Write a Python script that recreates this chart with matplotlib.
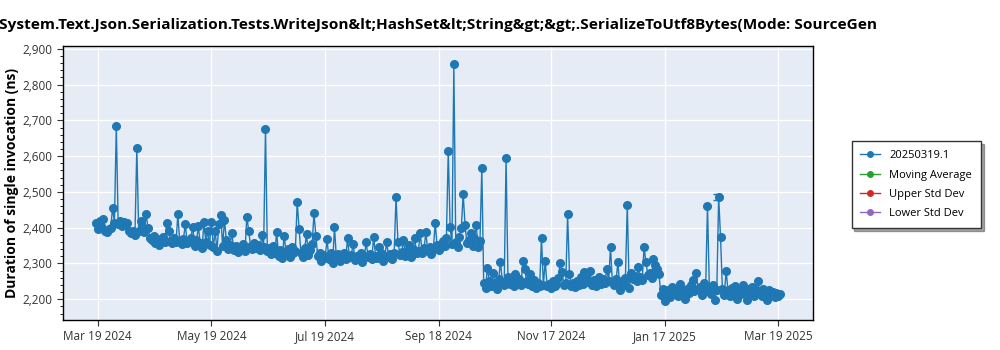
import pandas as pd
import numpy as np
import matplotlib
matplotlib.use("Agg")
import matplotlib.pyplot as plt
import matplotlib.dates as mdates
from matplotlib.lines import Line2D
from matplotlib.ticker import FuncFormatter, MultipleLocator

plt.rcParams["font.family"] = ["Open Sans", "DejaVu Sans"]

TITLE = "System.Text.Json.Serialization.Tests.WriteJson&lt;HashSet&lt;String&gt;&gt;.SerializeToUtf8Bytes(Mode: SourceGen"
Y_LABEL = "Duration of single invocation (ns)"

# one benchmark run per day, starting 2024-03-18
first_run = "2024-03-18"
durations = [
    2412, 2396, 2418, 2404, 2425, 2392, 2389, 2395, 2400, 2456,
    2414, 2685, 2410, 2418, 2406, 2415, 2409, 2412, 2392, 2385,
    2390, 2380, 2623, 2392, 2420, 2401, 2388, 2437, 2398, 2372,
    2366, 2378, 2358, 2368, 2352, 2362, 2374, 2360, 2413, 2390,
    2364, 2356, 2370, 2359, 2437, 2362, 2355, 2368, 2410, 2358,
    2364, 2372, 2403, 2348, 2365, 2404, 2356, 2342, 2417, 2360,
    2390, 2352, 2416, 2345, 2390, 2336, 2410, 2436, 2348, 2422,
    2365, 2340, 2352, 2385, 2338, 2350, 2332, 2346, 2341, 2355,
    2336, 2431, 2391, 2348, 2340, 2356, 2343, 2352, 2338, 2380,
    2345, 2676, 2335, 2342, 2326, 2348, 2330, 2388, 2322, 2338,
    2315, 2378, 2332, 2340, 2318, 2345, 2328, 2336, 2472, 2397,
    2330, 2318, 2342, 2382, 2325, 2338, 2354, 2440, 2378, 2320,
    2330, 2308, 2325, 2318, 2368, 2312, 2328, 2300, 2402, 2315,
    2326, 2308, 2322, 2330, 2312, 2371, 2318, 2325, 2354, 2310,
    2322, 2316, 2330, 2305, 2320, 2359, 2318, 2326, 2312, 2375,
    2322, 2315, 2345, 2328, 2308, 2320, 2361, 2318, 2326, 2312,
    2330, 2486, 2361, 2325, 2332, 2365, 2322, 2335, 2351, 2318,
    2340, 2370, 2328, 2336, 2385, 2330, 2342, 2387, 2335, 2345,
    2326, 2340, 2413, 2351, 2338, 2346, 2362, 2348, 2370, 2615,
    2402, 2355, 2857, 2360, 2345, 2375, 2400, 2494, 2407, 2357,
    2365, 2386, 2348, 2370, 2407, 2345, 2362, 2567, 2245, 2232,
    2288, 2250, 2238, 2272, 2245, 2228, 2256, 2304, 2248, 2240,
    2595, 2262, 2244, 2255, 2236, 2270, 2248, 2258, 2240, 2306,
    2285, 2250, 2242, 2270, 2238, 2254, 2232, 2245, 2236, 2372,
    2240, 2307, 2236, 2244, 2232, 2250, 2238, 2242, 2260, 2300,
    2277, 2240, 2246, 2437, 2270, 2238, 2245, 2235, 2250, 2240,
    2262, 2244, 2277, 2262, 2248, 2280, 2240, 2255, 2236, 2250,
    2262, 2244, 2258, 2246, 2285, 2250, 2345, 2248, 2240, 2256,
    2303, 2226, 2252, 2244, 2260, 2464, 2232, 2274, 2258, 2266,
    2250, 2289, 2262, 2255, 2345, 2303, 2268, 2272, 2260, 2312,
    2295, 2285, 2270, 2212, 2230, 2196, 2218, 2225, 2205, 2235,
    2214, 2222, 2208, 2243, 2216, 2226, 2200, 2230, 2218, 2240,
    2253, 2222, 2274, 2228, 2235, 2212, 2245, 2226, 2462, 2232,
    2215, 2240, 2198, 2225, 2486, 2373, 2228, 2212, 2280, 2225,
    2208, 2232, 2218, 2236, 2200, 2228, 2215, 2240, 2222, 2198,
    2230, 2218, 2235, 2210, 2226, 2252, 2222, 2208, 2230, 2215,
    2198, 2225, 2212, 2220, 2205, 2218, 2210, 2215,
]

# the one run with a visible error bar
err_date = "2025-02-14"
err_value = 2486
err_size = 8

series_labels = ["20250319.1", "Moving Average", "Upper Std Dev", "Lower Std Dev"]
series_colors = ["#1f77b4", "#2ca02c", "#d62728", "#9467bd"]

tick_dates = ["2024-03-19", "2024-05-19", "2024-07-19", "2024-09-18",
              "2024-11-17", "2025-01-17", "2025-03-19"]

dates = pd.date_range(first_run, periods=len(durations), freq="D")

fig = plt.figure(figsize=(10, 3.5), dpi=100)
ax = fig.add_axes([0.063, 0.0857, 0.75, 0.783])
ax.set_facecolor("#e5ecf6")

ax.plot(dates, durations, color=series_colors[0], marker="o", markersize=5.5,
        linewidth=1, zorder=3)
ax.errorbar([pd.Timestamp(err_date)], [err_value], yerr=err_size,
            color=series_colors[0], capsize=3, linewidth=1, zorder=3)

ax.set_xlim(pd.Timestamp("2024-02-29 10:00"), pd.Timestamp("2025-04-06 14:00"))
ax.set_ylim(2142, 2908)
ax.set_xticks(pd.to_datetime(tick_dates))
ax.xaxis.set_major_formatter(mdates.DateFormatter("%b %d %Y"))
ax.yaxis.set_major_locator(MultipleLocator(100))
ax.yaxis.set_minor_locator(MultipleLocator(20))
ax.yaxis.set_major_formatter(FuncFormatter(lambda v, p: f"{v:,.0f}"))

ax.grid(True, color="white", linewidth=1)
ax.set_axisbelow(True)
for s in ax.spines.values():
    s.set_color("black")
    s.set_linewidth(1)
ax.tick_params(axis="both", labelsize=8.5, colors="#333333", length=4)
ax.tick_params(axis="y", which="minor", length=2)

ax.set_ylabel(Y_LABEL, fontsize=10, fontweight="bold")
ax.yaxis.set_label_coords(-0.058, 0.5)
ax.set_title(TITLE, fontsize=11.1, fontweight="bold", pad=12)

# legend entries share the same small dot-and-line glyph
handles = [Line2D([], [], color=c, marker="o", markersize=4, linewidth=1)
           for c in series_colors]
fig.legend(handles, series_labels, loc="upper left", bbox_to_anchor=(0.846, 0.612),
           fontsize=8, frameon=True, fancybox=False, shadow=True,
           edgecolor="#333333", borderpad=0.8, labelspacing=0.75,
           handlelength=1.8)

fig.savefig("out.png", dpi=100)
